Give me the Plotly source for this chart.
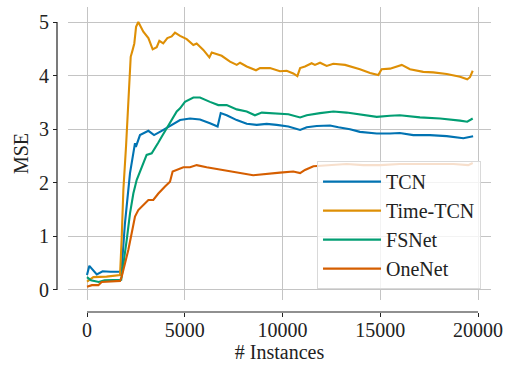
import plotly.graph_objects as go

FONT = "Times New Roman"

series_names = ["TCN", "Time-TCN", "FSNet", "OneNet"]
colors = ["#0173b2", "#de8f05", "#029e73", "#d55e00"]

tcn_x = [0, 120, 500, 800, 1200, 1720, 1780, 1940, 2200, 2455, 2500, 2710, 3140, 3430, 3820,
         4330, 4760, 5270, 5780, 6290, 6680, 6840, 7145, 7660, 8170, 8680, 9190, 9700, 10300,
         10900, 11240, 11750, 12430, 12860, 13450, 13960, 14820, 15500, 16000, 16690, 17540,
         18400, 19250, 19750]
tcn_y = [0.28, 0.45, 0.29, 0.35, 0.34, 0.34, 0.43, 1.24, 2.18, 2.74, 2.67, 2.89, 2.97, 2.89, 2.97,
         3.08, 3.17, 3.20, 3.18, 3.11, 3.05, 3.30, 3.26, 3.17, 3.10, 3.08, 3.10, 3.08, 3.05,
         2.985, 3.035, 3.06, 3.07, 3.035, 3.00, 2.95, 2.92, 2.92, 2.93, 2.89, 2.89,
         2.87, 2.83, 2.87]

ttcn_x = [0, 325, 1000, 1690, 1770, 1860, 2000, 2165, 2235, 2335, 2420, 2510, 2625, 2880, 3140,
          3360, 3565, 3700, 3900, 4110, 4330, 4500, 4760, 5100, 5440, 5610, 5950, 6260, 6380,
          6890, 7315, 7660, 7830, 8170, 8645, 8850, 9360, 9870, 10215, 10550, 10760, 10900,
          11150, 11490, 11660, 11920, 12260, 12600, 13200, 13960, 14480, 14900, 15070, 15500,
          16100, 16520, 17200, 17710, 18400, 19080, 19450, 19590, 19730]
ttcn_y = [0.155, 0.24, 0.25, 0.28, 0.93, 1.87, 2.70, 3.73, 4.35, 4.48, 4.60, 4.91, 5.00, 4.82, 4.70,
          4.49, 4.53, 4.65, 4.60, 4.70, 4.73, 4.80, 4.74, 4.68, 4.57, 4.60, 4.48, 4.34, 4.43,
          4.37, 4.26, 4.20, 4.24, 4.17, 4.10, 4.14, 4.14, 4.08, 4.09, 4.04, 3.99, 4.14,
          4.17, 4.23, 4.20, 4.24, 4.18, 4.22, 4.20, 4.12, 4.05, 4.01, 4.12, 4.13,
          4.20, 4.12, 4.07, 4.06, 4.03, 3.98, 3.93, 3.97, 4.09]

fsnet_x = [0, 200, 600, 900, 1750, 1825, 2030, 2200, 2370, 2540, 2800, 3050, 3310, 3480, 3650,
           3820, 4080, 4330, 4590, 4760, 5010, 5440, 5780, 6290, 6715, 7145, 7660, 8170, 8590,
           8940, 9700, 10300, 10900, 11240, 11920, 12600, 13280, 14130, 14820, 15500, 16000,
           17030, 18060, 19080, 19450, 19730]
fsnet_y = [0.24, 0.18, 0.15, 0.18, 0.19, 0.37, 0.93, 1.43, 1.80, 2.05, 2.30, 2.52, 2.55, 2.64, 2.75,
           2.86, 3.02, 3.17, 3.33, 3.39, 3.51, 3.59, 3.59, 3.51, 3.45, 3.45, 3.37, 3.33, 3.26,
           3.31, 3.30, 3.28, 3.22, 3.26, 3.30, 3.33, 3.31, 3.26, 3.23, 3.25, 3.26,
           3.22, 3.20, 3.16, 3.14, 3.20]

onenet_x = [0, 250, 580, 750, 1690, 1775, 1945, 2115, 2285, 2455, 2625, 2880, 3140, 3390, 3650,
            3990, 4245, 4380, 4590, 4930, 5270, 5610, 6120, 6460, 7480, 8500, 9870, 10550,
            10900, 11150, 11580, 12260, 13280, 14130, 14990, 16000, 17540, 18740, 19500, 19730]
onenet_y = [0.06, 0.09, 0.09, 0.15, 0.17, 0.25, 0.50, 0.75, 1.06, 1.37, 1.49, 1.59, 1.68, 1.68, 1.80,
            1.93, 2.02, 2.21, 2.24, 2.29, 2.29, 2.33, 2.29, 2.27, 2.21, 2.14, 2.19, 2.21,
            2.18, 2.24, 2.31, 2.33, 2.35, 2.33, 2.33, 2.35, 2.35, 2.35, 2.33, 2.37]

xs = [tcn_x, ttcn_x, fsnet_x, onenet_x]
ys = [tcn_y, ttcn_y, fsnet_y, onenet_y]

x_ticks = [0, 5000, 10000, 15000, 20000]
y_ticks = [0, 1, 2, 3, 4, 5]
x_range = [-972, 20665]
y_range = [-0.187, 5.28]

fig = go.Figure()
for name, c, x, y in zip(series_names, colors, xs, ys):
    fig.add_trace(go.Scatter(x=x, y=y, mode="lines", name=name,
                             line=dict(color=c, width=2.1)))
# invisible trace to carry the offset tick axes
fig.add_trace(go.Scatter(x=[x_ticks[0]], y=[y_ticks[0]], mode="markers", xaxis="x2", yaxis="y2",
                         marker=dict(opacity=0), showlegend=False, hoverinfo="skip"))

# trimmed, offset spines
fig.add_shape(type="line", xref="paper", yref="y", x0=0, x1=0,
              y0=y_ticks[0], y1=y_ticks[-1], line=dict(color="#222222", width=1.2))
fig.add_shape(type="line", xref="x", yref="paper", y0=0, y1=0,
              x0=x_ticks[0], x1=x_ticks[-1], line=dict(color="#222222", width=1.2))

xdom = [11 / 434, 1]
ydom = [12 / 305, 1]
tickfont = dict(family=FONT, size=20, color="#222222")

fig.update_layout(
    width=507, height=366,
    margin=dict(l=57, r=16, t=7, b=54, autoexpand=False),
    plot_bgcolor="white", paper_bgcolor="white",
    font=dict(family=FONT, size=20, color="#222222"),
    showlegend=True,
    legend=dict(x=0.977, y=0.075, xanchor="right", yanchor="bottom",
                bgcolor="rgba(255,255,255,0.8)", bordercolor="#d9d9d9", borderwidth=1,
                font=dict(family=FONT, size=20, color="#222222"), itemwidth=58),
    xaxis=dict(domain=xdom, range=x_range, anchor="y", tickvals=x_ticks,
               showticklabels=False, ticks="", automargin=False,
               showgrid=True, gridcolor="#c4c4c4", gridwidth=1, zeroline=False, showline=False),
    yaxis=dict(domain=ydom, range=y_range, anchor="x", tickvals=y_ticks,
               showticklabels=False, ticks="", automargin=False,
               showgrid=True, gridcolor="#c4c4c4", gridwidth=1, zeroline=False, showline=False),
    xaxis2=dict(domain=xdom, range=x_range, overlaying="x", anchor="free", position=0,
                tickvals=x_ticks, ticktext=[str(v) for v in x_ticks], tickfont=tickfont,
                showgrid=False, zeroline=False, showline=False, automargin=False,
                ticks="outside", ticklen=4, tickcolor="#222222", ticklabelstandoff=-4,
                title=dict(text="# Instances", standoff=4, font=tickfont)),
    yaxis2=dict(domain=ydom, range=y_range, overlaying="y", anchor="free", position=0,
                tickvals=y_ticks, ticktext=[str(v) for v in y_ticks], tickfont=tickfont,
                showgrid=False, zeroline=False, showline=False, automargin=False,
                ticks="outside", ticklen=4, tickcolor="#222222",
                title=dict(text="MSE", standoff=4, font=tickfont)),
)

fig.write_html("out.html")
